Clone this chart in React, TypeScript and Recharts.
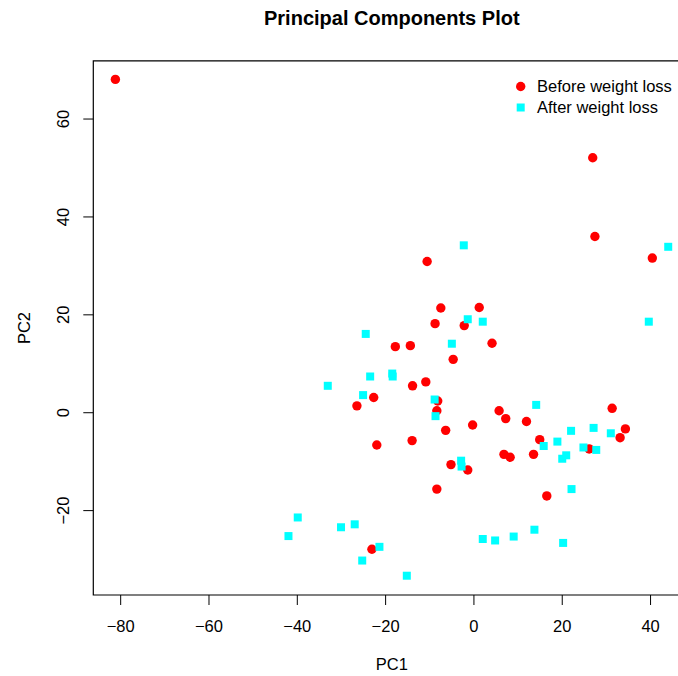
import React from "react";
import { ScatterChart, Scatter, XAxis, YAxis, ReferenceArea, Legend } from "recharts";

const FONT = '"Liberation Sans", Arial, Helvetica, sans-serif';

const beforePC1 = [
  -81.2, 26.9, 27.4, 40.4, -10.6, -7.5, 1.2, -8.8, -2.2, -17.8, -14.4, 4.1, -4.7,
  -13.9, -10.9, -8.2, -8.4, -6.4, -0.3, -14.0, -22.0, 5.7, 7.2, 11.9, 14.9, 31.3,
  34.3, 33.1, 26.1, 6.8, 8.2, 13.5, -5.2, -1.4, -8.4, 16.5, -22.7, -26.5, -23.1,
];
const beforePC2 = [
  68.1, 52.1, 36.0, 31.6, 30.9, 21.4, 21.5, 18.2, 17.8, 13.5, 13.7, 14.2, 10.9,
  5.5, 6.3, 2.4, 0.4, -3.6, -2.5, -5.7, -6.6, 0.4, -1.2, -1.8, -5.5, 0.9,
  -3.3, -5.1, -7.4, -8.5, -9.1, -8.5, -10.6, -11.7, -15.6, -17.0, 3.1, 1.4, -27.9,
];
const afterPC1 = [
  -24.5, -2.3, 44.0, -1.4, 2.0, 39.6, -5.0, -18.5, -18.4, -8.9, -8.7, 14.1, 15.8,
  18.9, 22.0, 27.1, 31.0, 24.8, 27.7, 20.9, 20.0, -2.9, -2.8, 22.1, 13.7, 2.0,
  4.8, 9.0, 20.2, -21.4, -15.2, -33.1, -23.5, -25.1, -39.9, -42.0, -30.1, -27.0, -25.3,
];
const afterPC2 = [
  16.1, 34.2, 33.9, 19.1, 18.6, 18.6, 14.1, 8.0, 7.4, 2.7, -0.7, 1.6, -6.8,
  -5.9, -3.7, -3.1, -4.2, -7.1, -7.6, -8.7, -9.4, -9.8, -11.0, -15.6, -23.9, -25.8,
  -26.1, -25.3, -26.6, -27.4, -33.3, 5.5, 7.4, 3.6, -21.4, -25.2, -23.4, -22.8, -30.2,
];

const xTicks = [-80, -60, -40, -20, 0, 20, 40];
const yTicks = [-20, 0, 20, 40, 60];
const xDomain = [-86.2, 49.0];
const yDomain = [-37.24, 71.9];

const before = beforePC1.map((x, i) => ({ x, y: beforePC2[i] }));
const after = afterPC1.map((x, i) => ({ x, y: afterPC2[i] }));

const fmt = (v: number) => (v < 0 ? "\u2212" + Math.abs(v) : String(v));

const XTick = ({ x, payload }: any) => (
  <text x={x} y={626} dy="0.36em" textAnchor="middle" fontFamily={FONT} fontSize={16.5} fill="#000">
    {fmt(payload.value)}
  </text>
);

const YTick = ({ y, payload }: any) => (
  <text
    x={63.5}
    y={y}
    dy="0.36em"
    transform={`rotate(-90 63.5 ${y})`}
    textAnchor="middle"
    fontFamily={FONT}
    fontSize={16.5}
    fill="#000"
  >
    {fmt(payload.value)}
  </text>
);

const Dot = ({ cx, cy }: any) => <circle cx={cx} cy={cy} r={4.7} fill="#FF0000" />;
const Square = ({ cx, cy }: any) => <rect x={cx - 4} y={cy - 4} width={8} height={8} fill="#00FFFF" />;

const LegendBox = () => (
  <div style={{ fontFamily: FONT, fontSize: 16.5, color: "#000" }}>
    {[
      { label: "Before weight loss", kind: "dot" },
      { label: "After weight loss", kind: "square" },
    ].map((item) => (
      <div key={item.label} style={{ display: "flex", alignItems: "center", height: 21, whiteSpace: "nowrap" }}>
        <svg width={25} height={21} style={{ flex: "none" }}>
          {item.kind === "dot" ? (
            <circle cx={8.7} cy={10.5} r={4.7} fill="#FF0000" />
          ) : (
            <rect x={4.7} y={6.5} width={8} height={8} fill="#00FFFF" />
          )}
        </svg>
        <span>{item.label}</span>
      </div>
    ))}
  </div>
);

const PC2Label = () => (
  <text
    x={24}
    y={328}
    dy="0.36em"
    transform="rotate(-90 24 328)"
    textAnchor="middle"
    fontFamily={FONT}
    fontSize={16.5}
    fill="#000"
  >
    PC2
  </text>
);

const PC1Label = () => (
  <text x={391.8} y={664} dy="0.36em" textAnchor="middle" fontFamily={FONT} fontSize={16.5} fill="#000">
    PC1
  </text>
);

export default function App() {
  return (
    <div style={{ position: "absolute", left: 0, top: 0, width: 678, height: 676, overflow: "hidden", background: "#fff" }}>
      <div
        style={{
          position: "absolute",
          left: 191.8,
          top: 6,
          width: 400,
          textAlign: "center",
          fontFamily: FONT,
          fontWeight: "bold",
          fontSize: 20,
          lineHeight: "24px",
          color: "#000",
        }}
      >
        Principal Components Plot
      </div>
      <ScatterChart width={720} height={676} margin={{ top: 60.8, right: 29.7, bottom: 0, left: 0 }}>
        <XAxis
          type="number"
          dataKey="x"
          domain={xDomain}
          ticks={xTicks}
          axisLine={false}
          tickLine={{ stroke: "#000" }}
          tickSize={10}
          tick={<XTick />}
          height={81}
          allowDataOverflow
          label={{ content: () => <PC1Label /> }}
        />
        <YAxis
          type="number"
          dataKey="y"
          domain={yDomain}
          ticks={yTicks}
          axisLine={false}
          tickLine={{ stroke: "#000" }}
          tickSize={10}
          tick={<YTick />}
          width={93.3}
          allowDataOverflow
          label={{ content: () => <PC2Label /> }}
        />
        <ReferenceArea
          x1={xDomain[0]}
          x2={xDomain[1]}
          y1={yDomain[0]}
          y2={yDomain[1]}
          fill="none"
          stroke="#000"
          strokeWidth={1.2}
          ifOverflow="visible"
        />
        <Scatter name="Before weight loss" data={before} shape={<Dot />} isAnimationActive={false} />
        <Scatter name="After weight loss" data={after} shape={<Square />} isAnimationActive={false} />
        <Legend
          layout="vertical"
          align="center"
          verticalAlign="middle"
          content={<LegendBox />}
          wrapperStyle={{ top: 75.5, left: 512, width: "auto" }}
        />
      </ScatterChart>
    </div>
  );
}
